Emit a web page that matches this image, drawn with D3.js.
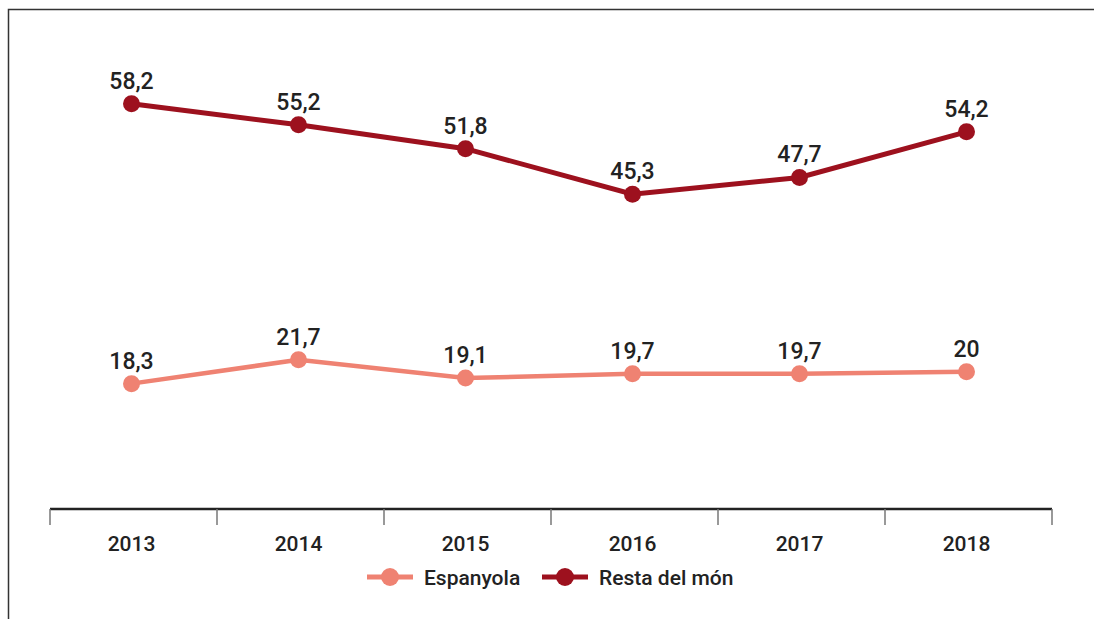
<!DOCTYPE html>
<html>
<head>
<meta charset="utf-8">
<script src="https://cdn.jsdelivr.net/npm/d3@7"></script>
<style>
  body { margin: 0; background: #fff; }
  svg text { font-family: Roboto, "Noto Sans", sans-serif; fill: #222; font-weight: 500; }
</style>
</head>
<body>
<svg id="svg"></svg>
<script>
// data
var years = ["2013", "2014", "2015", "2016", "2017", "2018"];
var espanyola = [18.3, 21.7, 19.1, 19.7, 19.7, 20];
var restaDelMon = [58.2, 55.2, 51.8, 45.3, 47.7, 54.2];
var seriesNames = ["Espanyola", "Resta del món"];
var seriesColors = ["#ef8272", "#9d111e"];

var width = 1094, height = 619;

var svg = d3.select("#svg").attr("width", width).attr("height", height);

// frame (top and left edges are the only ones in view)
svg.append("path")
    .attr("d", "M8.5,619 L8.5,9.5 L1094,9.5")
    .attr("fill", "none")
    .attr("stroke", "#333")
    .attr("stroke-width", 1.5);

var x = d3.scaleBand().domain(years).range([50, 1052]);
var y = d3.scaleLinear().domain([0, 70]).range([512, 21]);

function cx(i) { return x(years[i]) + x.bandwidth() / 2 - 2; }
function fmt(v) { return String(v).replace(".", ","); }

// x axis
var axisY = 509;
var xAxis = svg.append("g").attr("transform", "translate(0," + axisY + ")");
xAxis.append("line")
    .attr("x1", x.range()[0]).attr("x2", x.range()[1])
    .attr("stroke", "#222").attr("stroke-width", 2.5);
var edges = years.map(function(d) { return x(d); }).concat([x.range()[1]]);
xAxis.selectAll(".tick").data(edges).enter().append("line")
    .attr("x1", function(d) { return d; }).attr("x2", function(d) { return d; })
    .attr("y1", 0).attr("y2", 16)
    .attr("stroke", "#777").attr("stroke-width", 1.5);
xAxis.selectAll(".lab").data(years).enter().append("text")
    .attr("x", function(d, i) { return cx(i); })
    .attr("y", 42)
    .attr("text-anchor", "middle")
    .attr("font-size", 21)
    .text(function(d) { return d; });

var series = [espanyola, restaDelMon];

var line = d3.line()
    .x(function(d, i) { return cx(i); })
    .y(function(d) { return y(d); });

series.forEach(function(vals, s) {
    var g = svg.append("g");
    g.append("path")
        .attr("d", line(vals))
        .attr("fill", "none")
        .attr("stroke", seriesColors[s])
        .attr("stroke-width", s === 1 ? 5 : 4.5);
    g.selectAll("circle").data(vals).enter().append("circle")
        .attr("cx", function(d, i) { return cx(i); })
        .attr("cy", function(d) { return y(d); })
        .attr("r", 8.5)
        .attr("fill", seriesColors[s]);
    g.selectAll("text").data(vals).enter().append("text")
        .attr("x", function(d, i) { return cx(i); })
        .attr("y", function(d) { return y(d) - 15; })
        .attr("text-anchor", "middle")
        .attr("font-size", 23)
        .text(function(d) { return fmt(d); });
});

// legend
var legendX = [367, 542];
var legend = svg.append("g").attr("transform", "translate(0,577)");
seriesNames.forEach(function(name, s) {
    var lx = legendX[s];
    legend.append("line")
        .attr("x1", lx).attr("x2", lx + 46)
        .attr("stroke", seriesColors[s]).attr("stroke-width", 5);
    legend.append("circle")
        .attr("cx", lx + 23).attr("r", 9)
        .attr("fill", seriesColors[s]);
    legend.append("text")
        .attr("x", lx + 57).attr("y", 8)
        .attr("font-size", 21)
        .text(name);
});
</script>
</body>
</html>
